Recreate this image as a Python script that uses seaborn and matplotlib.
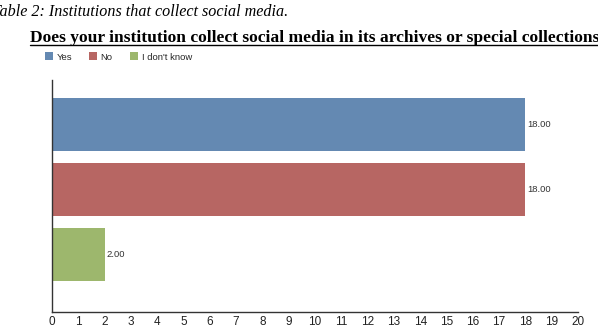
import pandas as pd
import seaborn as sns
import matplotlib.pyplot as plt
from matplotlib.lines import Line2D

answers = ["Yes", "No", "I don't know"]
counts = [18, 18, 2]
bar_colors = ["#6489b2", "#b76663", "#9db76d"]
xticks = list(range(0, 21))

df = pd.DataFrame({"answer": answers, "count": counts})

sns.set_theme(style="white")
plt.rcParams["font.family"] = ["Liberation Sans", "DejaVu Sans"]

fig = plt.figure(figsize=(5.98, 3.32), dpi=100)
W, H = 598, 332
ax = fig.add_axes([52 / W, 1 - 312 / H, 526 / W, 232 / H])

sns.barplot(data=df, y="answer", x="count", hue="answer", palette=bar_colors,
            orient="h", width=0.82, dodge=False, legend=True, ax=ax,
            saturation=1, edgecolor="none")

ax.set_xlim(0, 20)
ax.set_ylim(2.88, -0.69)
ax.set_xticks(xticks)
ax.set_xticklabels([str(t) for t in xticks], fontsize=8.5, color="#222222")
ax.set_yticks([])
ax.set_xlabel("")
ax.set_ylabel("")
ax.tick_params(axis="x", length=0, pad=3)
for s in ["top", "right"]:
    ax.spines[s].set_visible(False)
for s in ["left", "bottom"]:
    ax.spines[s].set_color("#333333")
    ax.spines[s].set_linewidth(1.0)

for i, v in enumerate(counts):
    ax.text(v + 0.06, i, f"{v:.2f}", va="center", ha="left", fontsize=6.8,
            color="#333333")

leg = ax.legend(loc="center left", bbox_to_anchor=(36 / W, 1 - 57 / H),
                bbox_transform=fig.transFigure, ncol=3, frameon=False,
                fontsize=6.8, handlelength=0.85, handleheight=0.85,
                columnspacing=1.8, handletextpad=0.4)

fig.text(-8 / W, 1 - 12 / H, "Table 2: Institutions that collect social media.",
         family=["Liberation Serif"], style="italic", fontsize=11.6,
         va="center", ha="left", color="black")
t = fig.text(30 / W, 1 - 38 / H,
             "Does your institution collect social media in its archives or special collections?",
             family=["Liberation Serif"], weight="bold", fontsize=12.6,
             va="center", ha="left", color="black")

fig.canvas.draw()
bb = t.get_window_extent(fig.canvas.get_renderer())
uy = (bb.y0 + 1) / H
fig.add_artist(Line2D([bb.x0 / W, bb.x1 / W], [uy, uy],
                      transform=fig.transFigure, color="black", lw=1.0))

fig.savefig("out.png", dpi=100)
